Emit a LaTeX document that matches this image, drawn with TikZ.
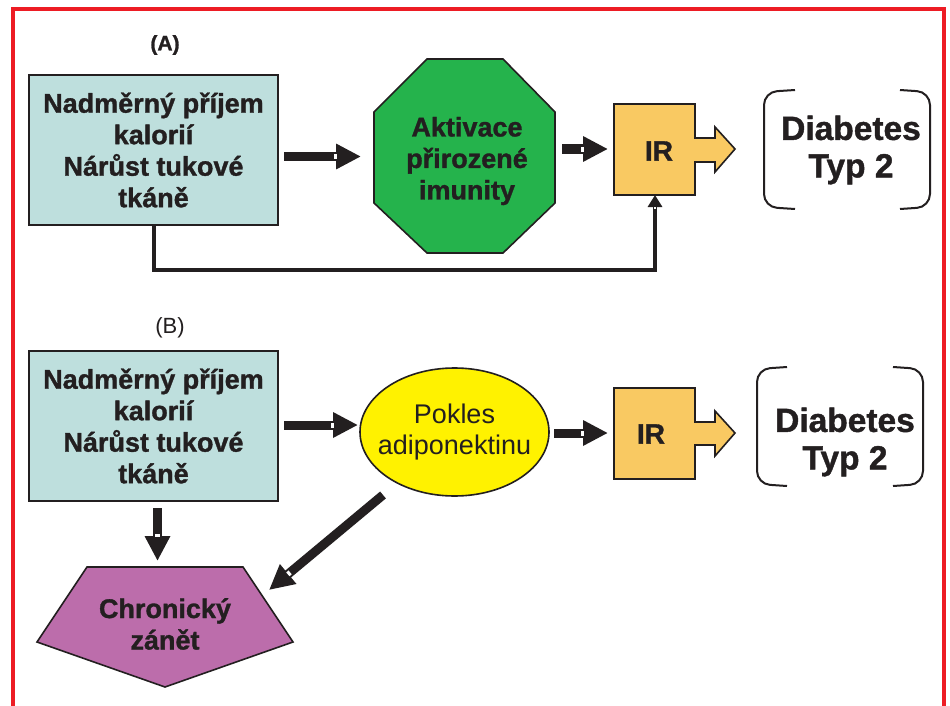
\documentclass[tikz,border=0pt]{standalone}
\usepackage{fontspec}
\setmainfont{Liberation Sans}
\newfontfamily\heavyfont{Liberation Sans Bold}[FakeBold=1.2]
\usetikzlibrary{arrows.meta,calc,shapes.geometric}
\definecolor{bordred}{HTML}{ED1C24}
\definecolor{ink}{HTML}{231F20}
\definecolor{tealbox}{HTML}{BEDFDD}
\definecolor{octgreen}{HTML}{25B34C}
\definecolor{irorange}{HTML}{F9C962}
\definecolor{ellyellow}{HTML}{FFF200}
\definecolor{pentpurple}{HTML}{BC6DAB}
\newcommand{\fatarr}[2]{%
  \draw[fatline] (#1) -- (#2);
  \draw[white, line width=5pt] ($(#2)!24.5pt!(#1)$) -- ($(#2)!27.5pt!(#1)$);}
\begin{document}
\begin{tikzpicture}[x=1pt,y=-1pt,
  txt/.style={text=ink, align=center, font=\fontsize{27}{31.5}\selectfont\heavyfont},
  srcbox/.style={draw=ink, line width=1.6pt, fill=tealbox, minimum width=249pt, minimum height=150pt, inner sep=0pt, txt},
  irtxt/.style={inner sep=0pt, text=ink, font=\fontsize{28}{30}\selectfont\heavyfont},
  diab/.style={txt, font=\fontsize{33.5}{37.5}\selectfont\heavyfont},
  fatline/.style={draw=ink, line width=9pt, -{Triangle[length=25pt,width=24pt]}},
  shape line/.style={draw=ink, line width=1.6pt, line join=miter},
  bracket/.style={draw=ink, line width=2pt, rounded corners=13pt}]
\useasboundingbox (0,0) rectangle (950,706);
\clip (0,0) rectangle (950,706);
\fill[white] (0,0) rectangle (950,706);
% border
\draw[bordred, line width=4pt] (13,720) -- (13,9) -- (944,9) -- (944,720);

% ---------- Panel A ----------
\node[text=ink, font=\fontsize{21}{24}\selectfont\heavyfont] (labA) at (165,45) {(A)};
\node[srcbox] (srcA) at (153.5,150) {Nadměrný příjem\\kalorií\\Nárůst tukové\\tkáně};

\draw[shape line, fill=octgreen] (374,112) -- (427,59) -- (503,59) -- (555,112) -- (555,203) -- (503,253) -- (427,253) -- (374,203) -- cycle;
\node[txt] (octA) at (467,161) {Aktivace\\přirozené\\imunity};

\coordinate (irAnw) at (614,104);
\draw[shape line, fill=irorange] (irAnw) -- ++(81,0) -- ++(0,34) -- ++(20,0) -- ++(0,-11) -- ++(20,22) -- ++(-20,23) -- ++(0,-10) -- ++(-20,0) -- ++(0,33) -- ++(-81,0) -- cycle;
\node[irtxt] (irA) at (659,151) {IR};
\coordinate (irAbot) at (655,195);

\node[diab] (diabA) at (851,150) {Diabetes\\Typ 2};
\draw[bracket] (795,90) -- (764,92) -- (764,207) -- (795,209);
\draw[bracket] (900,90) -- (930,92) -- (930,207) -- (900,209);

\coordinate (a1s) at (284,156.5);
\coordinate (a1e) at (361,156.5);
\fatarr{a1s}{a1e}
\coordinate (a2s) at (562,149);
\coordinate (a2e) at (608,149);
\fatarr{a2s}{a2e}

\coordinate (loopL) at (154,270);
\coordinate (loopR) at (655,270);
\draw[draw=ink, line width=4pt, line join=miter, -{Triangle[length=12pt,width=14pt]}] (srcA.south -| loopL) -- (loopL) -- (loopR) -- (irAbot);
\draw[white, line width=2pt] ($(irAbot)+(0,12)$) -- ++(0,2);

% ---------- Panel B ----------
\node[text=ink, font=\fontsize{22}{26}\selectfont] (labB) at (170,328) {(B)};
\node[srcbox] (srcB) at (153.5,426) {Nadměrný příjem\\kalorií\\Nárůst tukové\\tkáně};

\node[ellipse, draw=ink, line width=1.6pt, fill=ellyellow, minimum width=189pt, minimum height=128pt, inner sep=0pt,
  label={[text=ink, align=center, font=\fontsize{27}{31.5}\selectfont]center:Pokles\\adiponektinu}] (ellB) at (454.5,432) {};

\coordinate (irBnw) at (614,388);
\draw[shape line, fill=irorange] (irBnw) -- ++(81,0) -- ++(0,34) -- ++(20,0) -- ++(0,-11) -- ++(20,22) -- ++(-20,23) -- ++(0,-11) -- ++(-20,0) -- ++(0,34) -- ++(-81,0) -- cycle;
\node[irtxt] (irB) at (651,434) {IR};

\node[diab] (diabB) at (845,442) {Diabetes\\Typ 2};
\draw[bracket] (787,367) -- (757,369) -- (757,484) -- (787,486);
\draw[bracket] (893,367) -- (923,369) -- (923,484) -- (893,486);

\draw[shape line, fill=pentpurple] (87,567) -- (243,567) -- (293,642) -- (165,687) -- (37,642) -- cycle;
\node[txt] (pentB) at (165,624) {Chronický\\zánět};

\coordinate (b1s) at (284,425);
\coordinate (b1e) at (358,425);
\fatarr{b1s}{b1e}
\coordinate (b2s) at (554,433);
\coordinate (b2e) at (608,433);
\fatarr{b2s}{b2e}
\coordinate (b3s) at (157.5,508);
\coordinate (b3e) at (157.5,561);
\fatarr{b3s}{b3e}
\coordinate (b4s) at (383,495);
\coordinate (b4e) at (269,590);
\fatarr{b4s}{b4e}
\end{tikzpicture}
\end{document}
